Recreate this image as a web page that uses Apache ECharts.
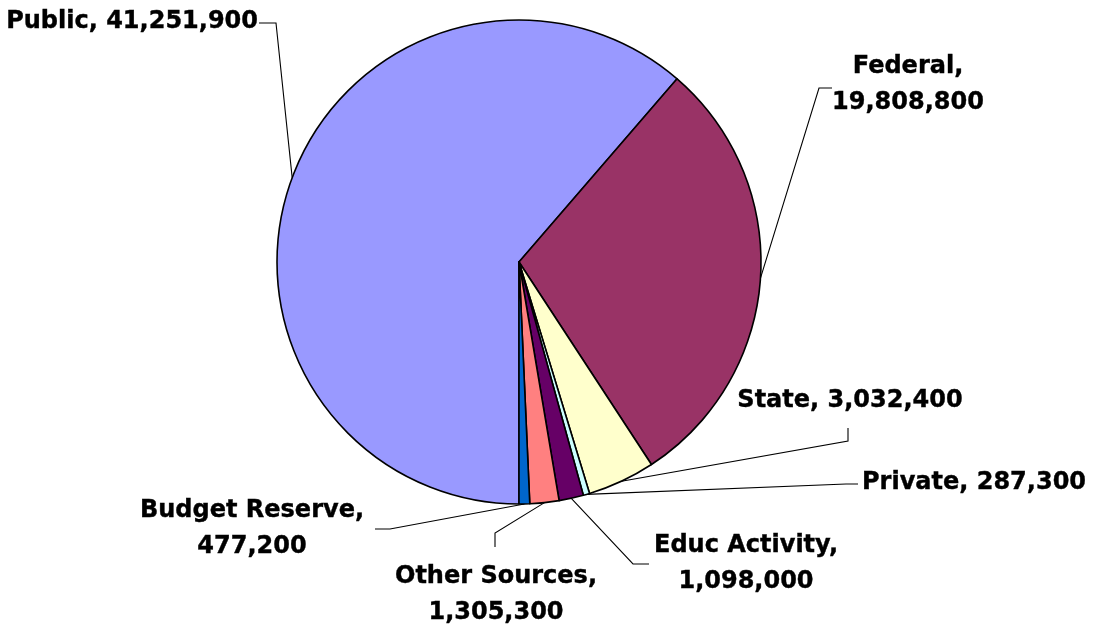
<!DOCTYPE html>
<html>
<head>
<meta charset="utf-8">
<script src="https://cdn.jsdelivr.net/npm/echarts@6/dist/echarts.min.js"></script>
<style>
  html, body { margin: 0; padding: 0; background: #ffffff; }
  #chart { width: 1095px; height: 631px; }
</style>
</head>
<body>
<div id="chart"></div>
<script>
// Revenue sources, in slice order (clockwise from 6 o'clock)
const categories = ['Public', 'Federal', 'State', 'Private', 'Educ Activity', 'Other Sources', 'Budget Reserve'];
const amounts = [41251900, 19808800, 3032400, 287300, 1098000, 1305300, 477200];
// Whether the label wraps the amount onto a second line
const wrapLabel = [false, true, false, false, true, true, true];

const sliceColors = ['#9999FF', '#993366', '#FFFFCC', '#CCFFFF', '#660066', '#FF8080', '#0066CC'];

// Label placement: anchor point, alignment, and leader-line elbow/end offsets from the anchor
const labelPlacement = [
  { x: 258, y: 22,  align: 'right',  end: [1, 1],    elbow: [18, 1] },
  { x: 908, y: 85,  align: 'center', end: [-76, 3],  elbow: [-89, 3] },
  { x: 850, y: 401, align: 'center', end: [-2, 27],  elbow: [-2, 40] },
  { x: 862, y: 483, align: 'left',   end: [-4, 1],   elbow: [-16, 1] },
  { x: 746, y: 564, align: 'center', end: [-97, 0],  elbow: [-113, 0] },
  { x: 496, y: 595, align: 'center', end: [-1, -48], elbow: [-1, -62] },
  { x: 252, y: 529, align: 'center', end: [123, 0],  elbow: [138, 0] }
];

const fmt = v => v.toLocaleString('en-US');

const chart = echarts.init(document.getElementById('chart'), null, { renderer: 'canvas' });

chart.setOption({
  animation: false,
  backgroundColor: '#ffffff',
  series: [{
    type: 'pie',
    center: [519, 262],
    radius: 242,
    startAngle: -90,
    clockwise: true,
    avoidLabelOverlap: false,
    minShowLabelAngle: 0,
    data: categories.map((name, i) => ({
      name: name,
      value: amounts[i],
      itemStyle: { color: sliceColors[i] }
    })),
    itemStyle: { borderColor: '#000000', borderWidth: 1.6 },
    emphasis: { disabled: true },
    label: {
      show: true,
      position: 'outside',
      color: '#000000',
      fontFamily: 'DejaVu Sans',
      fontWeight: 'bold',
      fontSize: 24,
      lineHeight: 36,
      textBorderColor: '#000000',
      textBorderWidth: 0.4,
      formatter: p => p.name + (wrapLabel[p.dataIndex] ? ',\n' : ', ') + fmt(p.value)
    },
    labelLine: {
      show: true,
      length: 20,
      length2: 10,
      lineStyle: { color: '#000000', width: 1.1 }
    },
    labelLayout: function (params) {
      const pl = labelPlacement[params.dataIndex];
      const anchor = params.labelLinePoints ? params.labelLinePoints[0] : null;
      const out = {
        x: pl.x,
        y: pl.y,
        align: pl.align,
        verticalAlign: 'middle'
      };
      if (anchor) {
        out.labelLinePoints = [
          [anchor[0], anchor[1]],
          [pl.x + pl.elbow[0], pl.y + pl.elbow[1]],
          [pl.x + pl.end[0], pl.y + pl.end[1]]
        ];
      }
      return out;
    }
  }]
});
</script>
</body>
</html>
